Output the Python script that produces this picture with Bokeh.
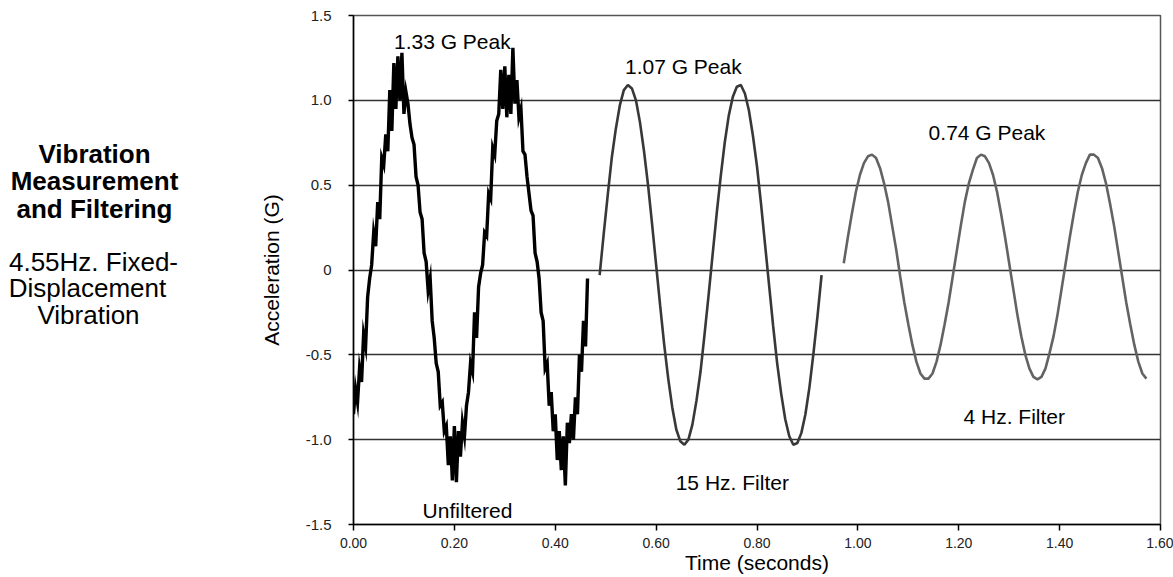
from bokeh.plotting import figure
from bokeh.layouts import row
from bokeh.models import FixedTicker, Label, Range1d
from bokeh.core.properties import value
from bokeh.embed import file_html
from bokeh.resources import INLINE

# ---------------- data ----------------
x_ticks = [0.0, 0.2, 0.4, 0.6, 0.8, 1.0, 1.2, 1.4, 1.6]
x_tick_labels = ["0.00", "0.20", "0.40", "0.60", "0.80", "1.00", "1.20", "1.40", "1.60"]
y_ticks = [-1.5, -1.0, -0.5, 0.0, 0.5, 1.0, 1.5]
y_tick_labels = ["-1.5", "-1.0", "-0.5", "0", "0.5", "1.0", "1.5"]
grid_levels = [-1.0, -0.5, 0.0, 0.5, 1.0]

# unfiltered signal, sampled every 4 ms from t = 0
unf_t0 = 0.0
unf_dt = 0.004
unfiltered = [
    -0.85, -0.70, -0.78, -0.58, -0.66, -0.38, -0.45, -0.16, -0.05, 0.03,
    0.22, 0.14, 0.40, 0.30, 0.66, 0.62, 0.80, 0.70, 1.06, 0.82,
    1.22, 0.95, 1.26, 1.00, 1.28, 0.92, 1.05, 0.98, 0.86, 0.78,
    0.74, 0.55, 0.50, 0.34, 0.30, 0.10, 0.05, -0.12, -0.05, -0.30,
    -0.40, -0.55, -0.60, -0.80, -0.78, -0.95, -0.92, -1.15, -0.98, -1.24,
    -0.92, -1.25, -0.95, -1.10, -0.90, -0.98, -0.80, -0.72, -0.55, -0.60,
    -0.25, -0.40, -0.10, -0.02, 0.03, 0.22, 0.20, 0.45, 0.42, 0.72,
    0.68, 0.88, 0.92, 1.18, 0.95, 1.20, 0.90, 1.15, 0.92, 1.31,
    0.98, 1.12, 0.90, 0.95, 0.70, 0.68, 0.55, 0.45, 0.35, 0.32,
    0.10, 0.05, -0.05, -0.25, -0.30, -0.58, -0.55, -0.80, -0.72, -0.95,
    -0.85, -1.12, -0.95, -1.18, -0.98, -1.27, -0.90, -1.02, -0.85, -1.00,
    -0.75, -0.85, -0.50, -0.60, -0.30, -0.45, -0.05,
]

# 15 Hz filtered signal, every 8 ms from t = 0.488
f15_t0 = 0.488
f15_dt = 0.008
filter15 = [
    -0.03, 0.21, 0.44, 0.66, 0.83, 0.97, 1.06, 1.09, 1.07, 1.00,
    0.87, 0.70, 0.50, 0.27, 0.03, -0.21, -0.44, -0.64, -0.81, -0.94,
    -1.01, -1.03, -1.00, -0.91, -0.77, -0.60, -0.38, -0.15, 0.09, 0.33,
    0.55, 0.75, 0.91, 1.02, 1.08, 1.09, 1.04, 0.94, 0.79, 0.61,
    0.39, 0.15, -0.09, -0.33, -0.55, -0.73, -0.88, -0.98, -1.03, -1.02,
    -0.96, -0.85, -0.69, -0.49, -0.27, -0.03,
]

# 4 Hz filtered signal, every 8 ms from t = 0.972
f4_t0 = 0.972
f4_dt = 0.008
filter4 = [
    0.04, 0.19, 0.33, 0.46, 0.56, 0.63, 0.67, 0.68, 0.66, 0.60,
    0.51, 0.40, 0.26, 0.12, -0.04, -0.19, -0.32, -0.44, -0.54, -0.61,
    -0.64, -0.64, -0.61, -0.54, -0.44, -0.32, -0.19, -0.04, 0.11, 0.26,
    0.40, 0.51, 0.59, 0.66, 0.68, 0.67, 0.63, 0.56, 0.46, 0.33,
    0.19, 0.04, -0.11, -0.26, -0.39, -0.50, -0.58, -0.63, -0.645, -0.63,
    -0.58, -0.49, -0.39, -0.26, -0.11, 0.04, 0.19, 0.33, 0.46, 0.56,
    0.63, 0.68, 0.68, 0.66, 0.60, 0.51, 0.39, 0.26, 0.11, -0.04,
    -0.19, -0.32, -0.44, -0.54, -0.61, -0.64,
]

# annotations: (text, t, value at baseline)
annotations = [
    ("1.33 G Peak", 0.196, 1.347),
    ("1.07 G Peak", 0.654, 1.20),
    ("0.74 G Peak", 1.256, 0.81),
    ("Unfiltered", 0.226, -1.418),
    ("15 Hz. Filter", 0.751, -1.255),
    ("4 Hz. Filter", 1.31, -0.863),
]
side_title = ["Vibration", "Measurement", "and Filtering"]
side_sub = ["4.55Hz. Fixed-", "Displacement", "Vibration"]

FONT = "Liberation Sans"

# ---------------- left text panel (pixel coordinates, y down) ----------------
LEFT_W = 240
H = 577
side = figure(width=LEFT_W, height=H, x_range=Range1d(0, LEFT_W), y_range=Range1d(H, 0),
              output_backend="svg", toolbar_location=None,
              x_axis_location=None, y_axis_location=None,
              min_border=0, min_border_left=0, min_border_right=0,
              min_border_top=0, min_border_bottom=0)
side.outline_line_color = None
side.grid.visible = False
side.background_fill_color = "white"
side.border_fill_color = "white"
side.text(x=[94, 94, 94], y=[157, 188, 219], text=side_title,
          text_align="center", text_baseline="alphabetic",
          text_font=value(FONT), text_font_size=value("26px"),
          text_font_style="bold", text_color="black")
side.text(x=[93, 87, 88], y=[279, 309, 340], text=side_sub,
          text_align="center", text_baseline="alphabetic",
          text_font=value(FONT), text_font_size=value("26px"),
          text_color="black")

# ---------------- main chart ----------------
p = figure(width=1173 - LEFT_W, height=H, x_range=(0, 1.6), y_range=(-1.5, 1.5),
           output_backend="svg", toolbar_location=None,
           min_border_left=353 - LEFT_W, min_border_right=13, min_border_top=15,
           min_border_bottom=53)
p.background_fill_color = "white"
p.border_fill_color = "white"
p.outline_line_color = "#555555"
p.outline_line_width = 1.5

p.xgrid.visible = False
p.ygrid.ticker = FixedTicker(ticks=grid_levels)
p.ygrid.grid_line_color = "#333333"
p.ygrid.grid_line_width = 1.4

xa = p.xaxis[0]
xa.ticker = FixedTicker(ticks=x_ticks)
xa.major_label_overrides = {t: s for t, s in zip(x_ticks, x_tick_labels)}
xa.minor_tick_line_color = None
xa.major_tick_in = 0
xa.major_tick_out = 6
xa.major_tick_line_width = 1.5
xa.axis_line_width = 1.5
xa.axis_line_color = "black"
xa.major_label_text_font = FONT
xa.major_label_text_font_size = "14px"
xa.major_label_text_color = "#222222"
xa.major_label_standoff = 7
xa.axis_label = "Time (seconds)"
xa.axis_label_text_font = FONT
xa.axis_label_text_font_size = "21px"
xa.axis_label_text_font_style = "normal"
xa.axis_label_text_color = "black"
xa.axis_label_standoff = 0

ya = p.yaxis[0]
ya.ticker = FixedTicker(ticks=y_ticks)
ya.major_label_overrides = {t: s for t, s in zip(y_ticks, y_tick_labels)}
ya.minor_tick_line_color = None
ya.major_tick_in = 0
ya.major_tick_out = 5
ya.major_tick_line_width = 1.5
ya.axis_line_width = 1.5
ya.axis_line_color = "black"
ya.major_label_text_font = FONT
ya.major_label_text_font_size = "15px"
ya.major_label_text_color = "#222222"
ya.major_label_standoff = 17
ya.axis_label = "Acceleration (G)"
ya.axis_label_text_font = FONT
ya.axis_label_text_font_size = "21px"
ya.axis_label_text_font_style = "normal"
ya.axis_label_text_color = "black"
ya.axis_label_standoff = 20

unf_t = [unf_t0 + i * unf_dt for i in range(len(unfiltered))]
f15_t = [f15_t0 + i * f15_dt for i in range(len(filter15))]
f4_t = [f4_t0 + i * f4_dt for i in range(len(filter4))]

p.line(unf_t, unfiltered, line_color="black", line_width=3.4, line_join="miter")
p.line(f15_t, filter15, line_color="#383838", line_width=2.6)
p.line(f4_t, filter4, line_color="#636363", line_width=2.6)

for txt, tx, ty in annotations:
    p.add_layout(Label(x=tx, y=ty, text=txt, text_align="center",
                       text_baseline="alphabetic", text_font=FONT,
                       text_font_size="21px", text_color="black"))

layout = row(side, p, spacing=0)
open("out.html", "w").write(file_html(layout, INLINE))
